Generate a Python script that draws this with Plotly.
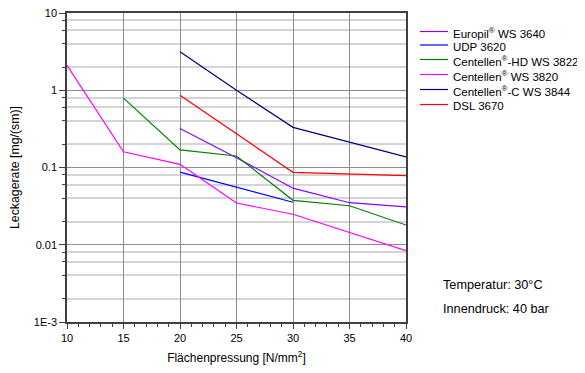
import plotly.graph_objects as go

# ---- data ----
europil_x = [20, 25, 30, 35, 40]
europil_y = [0.32, 0.134, 0.054, 0.035, 0.031]

udp_x = [20, 30]
udp_y = [0.087, 0.0355]

hd_x = [15, 20, 25, 30, 35, 40]
hd_y = [0.79, 0.169, 0.141, 0.0376, 0.032, 0.018]

c3820_x = [10, 15, 20, 25, 30, 40]
c3820_y = [2.1, 0.16, 0.11, 0.0347, 0.0248, 0.0084]

c3844_x = [20, 25, 30, 35, 40]
c3844_y = [3.16, 1.0, 0.331, 0.212, 0.137]

dsl_x = [20, 30, 40]
dsl_y = [0.86, 0.0867, 0.0783]

names = ["Europil<sup>®</sup> WS 3640", "UDP 3620", "Centellen<sup>®</sup>-HD WS 3822",
         "Centellen<sup>®</sup> WS 3820", "Centellen<sup>®</sup>-C WS 3844", "DSL 3670"]
colors = ["#8b00ff", "#0000ff", "#008000", "#ff00ff", "#000080", "#ff0000"]
xs_all = [europil_x, udp_x, hd_x, c3820_x, c3844_x, dsl_x]
ys_all = [europil_y, udp_y, hd_y, c3820_y, c3844_y, dsl_y]

y_tickvals = [0.001, 0.01, 0.1, 1, 10]
y_ticktext = ["1E-3", "0.01", "0.1", "1", "10"]
y_minor = [m * 10 ** e for e in range(-3, 1) for m in (2, 4, 6, 8)]
x_tickvals = [10, 15, 20, 25, 30, 35, 40]

# page body has an 8px margin -> figure is drawn offset by 8px
OFF = 8
W, H = 585 - OFF, 373 - OFF
L, T = 67 - OFF, 13 - OFF
pw, ph = 339, 309
R, B = W - L - pw, H - T - ph


def px(x):  # reference-pixel x -> paper
    return (x - OFF - L) / pw


def py(y):  # reference-pixel y -> paper
    return 1 - (y - OFF - T) / ph


fig = go.Figure()
for name, xs, ys, col in zip(names, xs_all, ys_all, colors):
    fig.add_trace(go.Scatter(x=xs, y=ys, mode="lines", name=name,
                             line=dict(color=col, width=1.2), showlegend=False))

FAM = "Liberation Sans, Arial, sans-serif"
font = dict(family=FAM, size=11, color="black")

# manual compact legend
leg_rows = [31.5, 45, 59.5, 74.5, 89.5, 104.5]
shapes = []
annotations = []
for name, col, yy in zip(names, colors, leg_rows):
    shapes.append(dict(type="line", xref="paper", yref="paper",
                       x0=px(420), x1=px(448), y0=py(yy), y1=py(yy),
                       line=dict(color=col, width=1.2)))
    annotations.append(dict(text=name, x=px(451), y=py(yy + 1.5), xref="paper", yref="paper",
                            showarrow=False, xanchor="left", yanchor="middle",
                            font=dict(family=FAM, size=11.5, color="black")))

annotations.append(dict(text="Temperatur: 30°C", x=px(441), y=py(285), xref="paper", yref="paper",
                        showarrow=False, xanchor="left", yanchor="middle",
                        font=dict(family=FAM, size=12.7, color="black")))
annotations.append(dict(text="Innendruck: 40 bar", x=px(441), y=py(308.5), xref="paper", yref="paper",
                        showarrow=False, xanchor="left", yanchor="middle",
                        font=dict(family=FAM, size=12.7, color="black")))

fig.update_layout(
    width=W, height=H,
    margin=dict(l=L, r=R, t=T, b=B, autoexpand=False),
    paper_bgcolor="white", plot_bgcolor="white",
    font=font,
    showlegend=False,
    shapes=shapes,
    annotations=annotations,
)

fig.update_xaxes(
    range=[10, 40], tickvals=x_tickvals, ticks="outside", ticklen=5,
    tickcolor="#404040", showline=True, linecolor="#404040", linewidth=1.5,
    mirror=True, showgrid=True, gridcolor="#8c8c8c", gridwidth=1,
    zeroline=False, tickfont=font, automargin=False, ticklabeloverflow="allow",
    minor=dict(dtick=1, ticks="outside", ticklen=3, tickcolor="#404040", showgrid=False),
    title=dict(text="Flächenpressung [N/mm<sup>2</sup>]",
               font=dict(family=FAM, size=12, color="black"), standoff=11),
)
fig.update_yaxes(
    type="log", range=[-3, 1], tickvals=y_tickvals, ticktext=y_ticktext,
    ticks="outside", ticklen=6, tickcolor="#404040",
    showline=True, linecolor="#404040", linewidth=1.5, mirror=True,
    showgrid=True, gridcolor="#8c8c8c", gridwidth=1, zeroline=False,
    tickfont=font, automargin=False, ticklabeloverflow="allow",
    minor=dict(tickvals=y_minor, ticks="outside", ticklen=3, tickcolor="#404040",
               showgrid=True, gridcolor="#d4d4d4", gridwidth=1.5),
    title=dict(text="Leckagerate [mg/(sm)]",
               font=dict(family=FAM, size=12.3, color="black"), standoff=16),
)

fig.write_html("out.html")
